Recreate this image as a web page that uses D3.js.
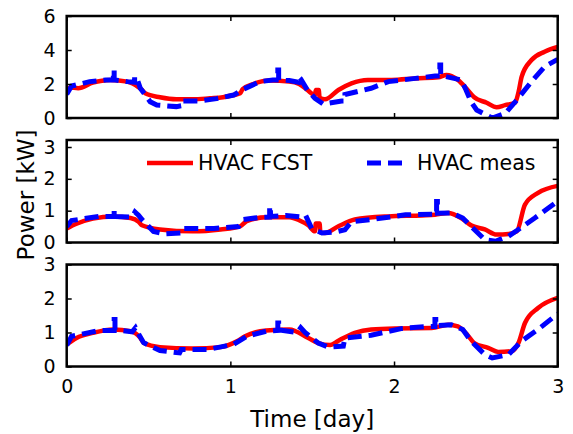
<!DOCTYPE html>
<html>
<head>
<meta charset="utf-8">
<script src="https://cdn.jsdelivr.net/npm/d3@7"></script>
<style>
  body { margin: 0; background: #fff; }
  text { font-family: "DejaVu Sans", sans-serif; }
</style>
</head>
<body>
<div id="plot"></div>
<script>
// time [day], power [kW]
topFcst = [[0,1.55],[0.02,1.8],[0.07,1.75],[0.16,2.08],[0.265,2.24],[0.37,2.14],[0.44,1.8],[0.46,1.65],[0.48,1.45],[0.57,1.22],[0.67,1.1],[0.77,1.1],[0.875,1.16],[0.955,1.22],[1.02,1.35],[1.06,1.45],[1.075,1.7],[1.14,2.0],[1.24,2.2],[1.36,2.14],[1.42,2.0],[1.47,1.65],[1.517,1.35],[1.522,1.65],[1.54,1.65],[1.545,1.2],[1.578,1.1],[1.66,1.65],[1.74,2.04],[1.84,2.24],[1.985,2.24],[2.13,2.33],[2.27,2.39],[2.32,2.53],[2.39,2.24],[2.45,1.65],[2.49,1.22],[2.566,0.9],[2.627,0.63],[2.678,0.76],[2.74,0.9],[2.76,1.5],[2.78,2.43],[2.84,3.41],[2.92,3.9],[3,4.18]]
topMeas = [[0,1.4],[0.03,1.88],[0.14,2.14],[0.24,2.24],[0.285,2.24],[0.285,2.82],[0.29,2.82],[0.29,2.24],[0.37,2.14],[0.415,2.1],[0.415,2.45],[0.43,2.3],[0.45,1.75],[0.51,0.96],[0.55,0.76],[0.67,0.67],[0.70,0.72],[0.70,1.0],[0.81,1.0],[0.916,1.14],[1.02,1.35],[1.07,1.65],[1.18,2.14],[1.26,2.24],[1.29,2.24],[1.29,2.82],[1.295,2.82],[1.295,2.24],[1.36,2.2],[1.415,2.1],[1.415,2.45],[1.43,2.3],[1.47,1.65],[1.517,1.16],[1.567,0.82],[1.68,1.0],[1.70,1.0],[1.70,1.38],[1.86,1.75],[1.965,2.14],[2.13,2.33],[2.25,2.47],[2.28,2.47],[2.28,3.12],[2.285,3.12],[2.285,2.5],[2.41,2.24],[2.44,1.65],[2.47,0.96],[2.505,0.47],[2.6,0.0],[2.68,0.27],[2.75,1.06],[2.84,2.14],[2.92,3.02],[3,3.45]]

midFcst = [[0,0.44],[0.06,0.59],[0.16,0.75],[0.285,0.82],[0.39,0.77],[0.44,0.65],[0.46,0.54],[0.57,0.41],[0.77,0.35],[0.94,0.41],[1.06,0.51],[1.1,0.67],[1.22,0.79],[1.36,0.79],[1.42,0.7],[1.476,0.54],[1.517,0.35],[1.522,0.6],[1.545,0.6],[1.55,0.32],[1.578,0.30],[1.66,0.51],[1.76,0.72],[1.965,0.82],[2.17,0.85],[2.25,0.87],[2.33,0.93],[2.41,0.77],[2.47,0.54],[2.555,0.41],[2.627,0.25],[2.70,0.27],[2.75,0.35],[2.80,1.19],[2.88,1.56],[3,1.78]]
midMeas = [[0,0.5],[0.03,0.69],[0.2,0.82],[0.29,0.82],[0.29,1.0],[0.295,1.0],[0.295,0.82],[0.40,0.8],[0.417,0.96],[0.44,0.85],[0.46,0.72],[0.53,0.35],[0.6,0.27],[0.70,0.3],[0.71,0.44],[0.9,0.44],[1.05,0.5],[1.08,0.72],[1.18,0.79],[1.24,0.8],[1.24,1.14],[1.245,1.14],[1.245,0.82],[1.34,0.85],[1.44,0.8],[1.46,0.85],[1.497,0.44],[1.56,0.30],[1.64,0.33],[1.70,0.4],[1.74,0.65],[1.86,0.72],[2.07,0.87],[2.23,0.89],[2.26,0.89],[2.26,1.29],[2.265,1.29],[2.265,0.92],[2.35,0.93],[2.42,0.77],[2.46,0.56],[2.555,0.09],[2.62,0.04],[2.70,0.2],[2.76,0.41],[2.86,0.77],[3,1.3]]

botFcst = [[0,0.65],[0.06,0.84],[0.16,0.99],[0.285,1.09],[0.39,1.04],[0.45,0.84],[0.47,0.7],[0.57,0.57],[0.77,0.53],[0.94,0.57],[1.04,0.74],[1.09,0.89],[1.22,1.06],[1.36,1.09],[1.476,0.84],[1.537,0.69],[1.61,0.63],[1.66,0.76],[1.76,0.99],[1.86,1.09],[2.005,1.12],[2.23,1.13],[2.33,1.23],[2.39,1.18],[2.45,0.92],[2.49,0.69],[2.575,0.55],[2.637,0.43],[2.718,0.45],[2.76,0.69],[2.80,1.28],[2.88,1.72],[3,2.02]]
botMeas = [[0,0.62],[0.03,0.89],[0.2,1.06],[0.29,1.06],[0.29,1.38],[0.295,1.38],[0.295,1.08],[0.40,1.02],[0.42,1.14],[0.44,0.95],[0.47,0.7],[0.57,0.47],[0.69,0.4],[0.70,0.5],[0.86,0.5],[1.02,0.65],[1.1,0.89],[1.22,1.04],[1.29,1.06],[1.29,1.28],[1.295,1.28],[1.295,1.08],[1.41,1.0],[1.43,1.14],[1.456,1.0],[1.537,0.69],[1.6,0.57],[1.69,0.6],[1.70,0.84],[1.86,0.92],[2.05,1.12],[2.21,1.18],[2.25,1.18],[2.25,1.38],[2.255,1.38],[2.255,1.2],[2.35,1.23],[2.42,1.09],[2.47,0.75],[2.555,0.35],[2.6,0.25],[2.70,0.35],[2.78,0.75],[2.88,1.09],[3,1.55]]

xTicks = [0, 1, 2, 3]
topTicks = [0, 2, 4, 6]
midTicks = [0, 1, 2, 3]
botTicks = [0, 1, 2, 3]
seriesNames = ["HVAC FCST", "HVAC meas"]

W = 573, H = 434
div = d3.select("#plot")
svg = div.append("svg").attr("width", W).attr("height", H).attr("viewBox", [0, 0, W, H])

x = d3.scaleLinear().domain([0, 3]).range([66.7, 557.7])

panels = [
  {fc: topFcst, me: topMeas, ymax: 6, ticks: topTicks, y0: 16, y1: 118},
  {fc: midFcst, me: midMeas, ymax: 3.22, ticks: midTicks, y0: 140, y1: 242.5},
  {fc: botFcst, me: botMeas, ymax: 3, ticks: botTicks, y0: 264.5, y1: 366.5}
]

panels.forEach((p, i) => {
  y = d3.scaleLinear().domain([0, p.ymax]).range([p.y1, p.y0])
  g = svg.append("g")

  g.append("clipPath").attr("id", "clip" + i)
    .append("rect").attr("x", x(0)).attr("y", p.y0).attr("width", x(3) - x(0)).attr("height", p.y1 - p.y0)

  lineF = d3.line().x(d => x(d[0])).y(d => y(d[1])).curve(d3.curveMonotoneX)
  lineM = d3.line().x(d => x(d[0])).y(d => y(d[1]))

  lines = g.append("g").attr("clip-path", "url(#clip" + i + ")").attr("fill", "none")
  lines.append("path").attr("d", lineF(p.fc)).attr("stroke", "#ff0000").attr("stroke-width", 4.5).attr("stroke-linejoin", "round")
  lines.append("path").attr("d", lineM(p.me)).attr("stroke", "#0000ff").attr("stroke-width", 5).attr("stroke-dasharray", "14,7")

  // ticks on all four sides, pointing inward
  yl = g.append("g").attr("transform", `translate(${x(0)},0)`)
    .call(d3.axisLeft(y).tickValues(p.ticks).tickSize(-5).tickSizeOuter(0).tickPadding(11).tickFormat(d3.format("d")))
  yr = g.append("g").attr("transform", `translate(${x(3)},0)`)
    .call(d3.axisRight(y).tickValues(p.ticks).tickSize(-5).tickSizeOuter(0).tickFormat(""))
  xb = g.append("g").attr("transform", `translate(0,${p.y1})`)
    .call(d3.axisBottom(x).tickValues(xTicks).tickSize(-5).tickSizeOuter(0).tickPadding(13)
      .tickFormat(i == 2 ? d3.format("d") : ""))
  xt = g.append("g").attr("transform", `translate(0,${p.y0})`)
    .call(d3.axisTop(x).tickValues(xTicks).tickSize(-5).tickSizeOuter(0).tickFormat(""))
  ;[yl, yr, xb, xt].forEach(a => {
    a.select(".domain").remove()
    a.selectAll(".tick line").attr("stroke", "#000").attr("stroke-width", 1.5)
    a.selectAll(".tick text").attr("font-size", 19).attr("fill", "#000").style("font-family", "DejaVu Sans")
  })

  g.append("rect").attr("x", x(0)).attr("y", p.y0).attr("width", x(3) - x(0)).attr("height", p.y1 - p.y0)
    .attr("fill", "none").attr("stroke", "#000").attr("stroke-width", 2.5)
})

// legend in the middle panel
leg = svg.append("g").attr("font-size", 20.5)
leg.append("line").attr("x1", 147).attr("x2", 193).attr("y1", 163).attr("y2", 163)
  .attr("stroke", "#ff0000").attr("stroke-width", 4.5)
leg.append("text").attr("x", 198).attr("y", 163).attr("dy", "0.36em").text(seriesNames[0])
leg.append("line").attr("x1", 367).attr("x2", 409).attr("y1", 163).attr("y2", 163)
  .attr("stroke", "#0000ff").attr("stroke-width", 5).attr("stroke-dasharray", "14,7")
leg.append("text").attr("x", 417).attr("y", 163).attr("dy", "0.36em").text(seriesNames[1])

svg.append("text").attr("x", x(1.5)).attr("y", 427).attr("text-anchor", "middle")
  .attr("font-size", 23).text("Time [day]")
svg.append("text").attr("transform", "translate(34,195) rotate(-90)").attr("text-anchor", "middle")
  .attr("font-size", 23).text("Power [kW]")
</script>
</body>
</html>
